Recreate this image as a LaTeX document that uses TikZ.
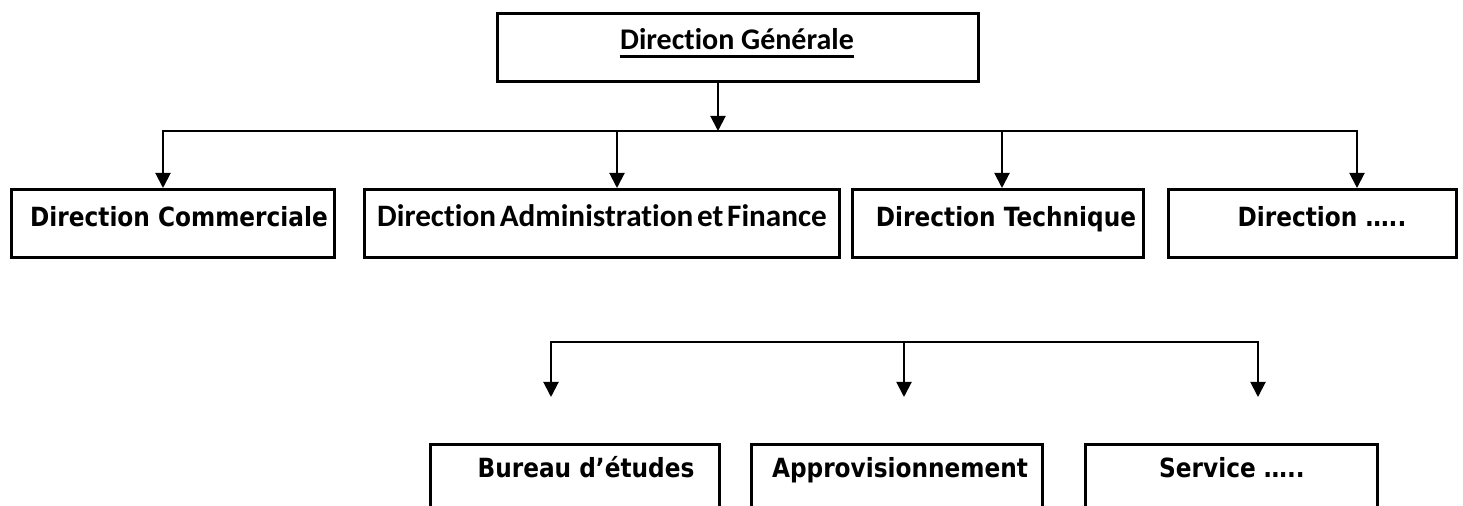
\documentclass[tikz,border=0pt]{standalone}
\usepackage{fontspec}
\usetikzlibrary{arrows.meta}
\newfontfamily\boxfont{DejaVu Sans}[FakeStretch=0.88]
\newfontfamily\calfont{Carlito}[Ligatures=NoCommon]
\newcommand\narrowspaces{\spaceskip=0.12em plus 0.02em\relax}

\tikzset{
  box/.style={draw, line width=1.5pt, inner sep=0pt, anchor=north west},
  lbl/.style={inner sep=0pt, anchor=base, font=\boxfont\bfseries\fontsize{13.2pt}{15pt}\selectfont},
  cal/.style={inner sep=0pt, anchor=base, font=\calfont\bfseries\fontsize{15pt}{18pt}\selectfont},
  caltight/.style={inner sep=0pt, anchor=base, font=\calfont\bfseries\fontsize{15.6pt}{18pt}\selectfont},
  tip/.tip={Triangle[length=7.5pt,width=7.5pt]},
  arr/.style={line width=1pt, -tip},
  bus/.style={line width=1pt, tip-tip},
}

\begin{document}
\begin{tikzpicture}[x=0.5pt, y=-0.5pt]
\useasboundingbox (0,0) rectangle (1463,506);
\clip (0,0) rectangle (1463,506);

% head office
\node[box, minimum width=240.5pt, minimum height=34pt] (dg) at (496,12) {};
\node[cal] (t0) at (737,50) {Direction Générale};
\draw[line width=1.5pt] ([yshift=-3.5pt]t0.base west) -- ([yshift=-3.5pt]t0.base east);

% directions
\node[box, minimum width=161.5pt, minimum height=34pt] (b1) at (10,188) {};
\node[box, minimum width=237.5pt, minimum height=34pt] (b2) at (363,188) {};
\node[box, minimum width=145.5pt, minimum height=34pt] (b3) at (851,188) {};
\node[box, minimum width=144pt,   minimum height=34pt] (b4) at (1167,188) {};
\node[lbl] (t1) at (179,227) {Direction Commerciale};
\node[caltight] (t2) at (602,227) {\narrowspaces Direction Administration et Finance};
\node[lbl] (t3) at (1006,227) {Direction Technique};
\node[lbl] (t4) at (1322,227) {Direction …..};

% services
\node[box, minimum width=144.5pt, minimum height=48.5pt] (b5) at (429,443) {};
\node[box, minimum width=145.5pt, minimum height=48.5pt] (b6) at (750,443) {};
\node[box, minimum width=146pt,   minimum height=48.5pt] (b7) at (1084,443) {};
\node[lbl] (t5) at (586,478) {Bureau d’études};
\node[lbl] (t6) at (900,478) {Approvisionnement};
\node[lbl] (t7) at (1232,478) {Service …..};

% first level links
\coordinate (j0) at (718,131);
\coordinate (d1) at (163,131);
\coordinate (d2) at (617,131);
\coordinate (d3) at (1002,131);
\coordinate (d4) at (1357,131);
\draw[arr] (dg.south -| j0) -- (j0);
\draw[bus] (d1 |- b1.north) -- (d1) -- (d4) -- (d4 |- b4.north);
\draw[arr] (d2) -- (d2 |- b2.north);
\draw[arr] (d3) -- (d3 |- b3.north);

% second level links
\coordinate (e1) at (551,342);
\coordinate (e2) at (904,342);
\coordinate (e3) at (1258,342);
\coordinate (f1) at (551,397);
\coordinate (f2) at (904,397);
\coordinate (f3) at (1258,397);
\draw[bus] (f1) -- (e1) -- (e3) -- (f3);
\draw[arr] (e2) -- (f2);
\end{tikzpicture}
\end{document}
